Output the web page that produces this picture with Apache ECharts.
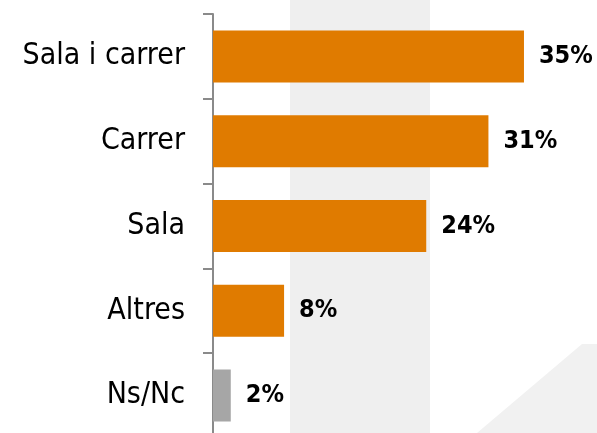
<!DOCTYPE html>
<html><head><meta charset="utf-8">
<script src="https://cdn.jsdelivr.net/npm/echarts@6/dist/echarts.min.js"></script>
<style>html,body{margin:0;padding:0;background:#fff}#c{width:597px;height:433px}</style>
</head><body><div id="c"></div>
<script>
const categories = ['Sala i carrer', 'Carrer', 'Sala', 'Altres', 'Ns/Nc'];
const values = [35, 31, 24, 8, 2];
const barColors = ['#E07B00', '#E07B00', '#E07B00', '#E07B00', '#A6A6A6'];

const chart = echarts.init(document.getElementById('c'), null, {renderer: 'canvas'});
chart.setOption({
  animation: false,
  backgroundColor: '#ffffff',
  graphic: [
    {type: 'rect', z: -10, shape: {x: 290, y: 0, width: 140, height: 433}, style: {fill: '#efefef'}},
    {type: 'polygon', z: -10, shape: {points: [[582, 344], [600, 344], [600, 433], [477, 433]]}, style: {fill: '#f1f1f1'}}
  ],
  grid: {left: 213, top: 14, width: 355.4, height: 424, containLabel: false, outerBoundsMode: 'none'},
  xAxis: {type: 'value', min: 0, max: 40, show: false},
  yAxis: {
    type: 'category', data: categories, inverse: true,
    axisLine: {show: true, lineStyle: {color: '#8a8a8a', width: 2}},
    axisTick: {show: true, length: 10, lineStyle: {color: '#8a8a8a', width: 2}},
    axisLabel: {margin: 28, color: '#000', fontSize: 30, fontFamily: 'DejaVu Sans Condensed'}
  },
  series: [{
    type: 'bar', barWidth: 52,
    data: values.map((v, i) => ({value: v, itemStyle: {color: barColors[i]}})),
    label: {show: true, position: 'right', distance: 15, formatter: '{c}%', color: '#000', fontSize: 25, fontWeight: 'bold', fontFamily: 'DejaVu Sans Condensed'}
  }]
});
</script></body></html>
